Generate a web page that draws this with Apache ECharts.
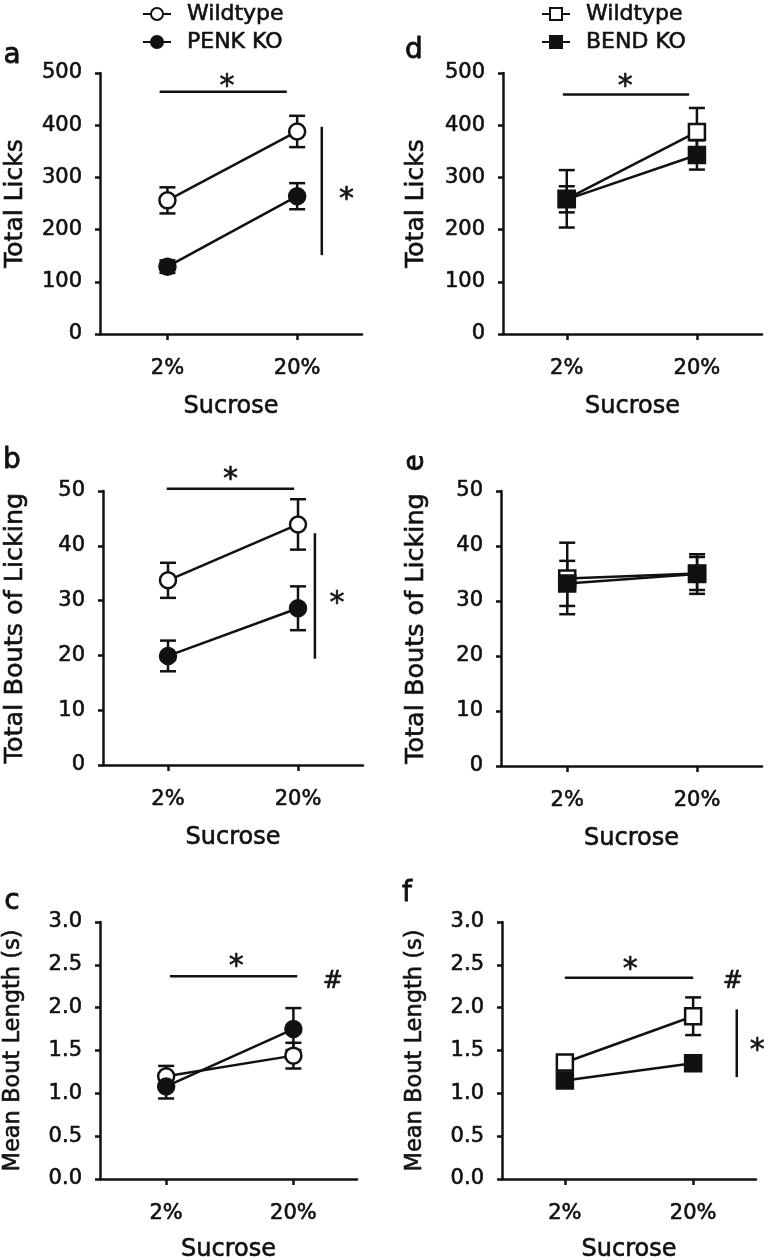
<!DOCTYPE html>
<html>
<head>
<meta charset="utf-8">
<script src="https://cdn.jsdelivr.net/npm/echarts@6/dist/echarts.min.js"></script>
<style>
html,body{margin:0;padding:0;background:#fff;}
#chart{width:768px;height:1260px;}
</style>
</head>
<body>
<div id="chart"></div>
<script>
// ---- categories ----
const sucrose = ['2%', '20%'];

// ---- Panel a: Total Licks (PENK) ----
const licksWT = [256, 388];
const licksWTErr = [25, 30];
const licksPENK = [129, 264];
const licksPENKErr = [12, 25];
const aSigLines = [[-0.06, 464, 0.92, 464], [1.19, 397, 1.19, 151]];
const aSigMarks = [[0.46, 486, '*'], [1.38, 270, '*']];

// ---- Panel b: Total Bouts of Licking (PENK) ----
const boutsWT = [33.7, 43.9];
const boutsWTErr = [3.2, 4.6];
const boutsPENK = [19.9, 28.6];
const boutsPENKErr = [2.8, 4.0];
const bSigLines = [[-0.01, 50.4, 0.97, 50.4], [1.13, 42.3, 1.13, 19.4]];
const bSigMarks = [[0.48, 53.2, '*'], [1.30, 30.6, '*']];

// ---- Panel c: Mean Bout Length (PENK) ----
const lenWT = [1.20, 1.44];
const lenWTErr = [0.12, 0.15];
const lenPENK = [1.08, 1.75];
const lenPENKErr = [0.14, 0.245];
const cSigLines = [[0.03, 2.367, 1.03, 2.367]];
const cSigMarks = [[0.55, 2.55, '*'], [1.31, 2.30, '#']];

// ---- Panel d: Total Licks (BEND) ----
const licksWT2 = [259, 387];
const licksWT2Err = [55, 46];
const licksBEND = [258, 343];
const licksBENDErr = [25, 28];
const dSigLines = [[-0.03, 459, 0.94, 459]];
const dSigMarks = [[0.45, 486, '*']];

// ---- Panel e: Total Bouts of Licking (BEND) ----
const boutsWT2 = [34.1, 35.0];
const boutsWT2Err = [6.5, 3.0];
const boutsBEND = [33.2, 34.9];
const boutsBENDErr = [4.1, 3.6];
const eSigLines = [];
const eSigMarks = [];

// ---- Panel f: Mean Bout Length (BEND) ----
const lenWT2 = [1.36, 1.90];
const lenWT2Err = [0.07, 0.22];
const lenBEND = [1.15, 1.35];
const lenBENDErr = [0.04, 0.04];
const fSigLines = [[0.0, 2.35, 1.0, 2.35], [1.34, 1.98, 1.34, 1.19]];
const fSigMarks = [[0.51, 2.52, '*'], [1.31, 2.30, '#'], [1.50, 1.57, '*']];

// ---- tick labels ----
const licksTicks = [0, 100, 200, 300, 400, 500];
const boutsTicks = [0, 10, 20, 30, 40, 50];
const lenTicks = [0, 0.5, 1.0, 1.5, 2.0, 2.5, 3.0];

// ---- build ----
const FONT = 'DejaVu Sans';
const INK = '#111';
const TB = {textBorderColor:INK, textBorderWidth:0.6};
const LW = 2.5;
const WT_L = 'Wildtype';
const WT_R = 'Wildtype\u00a0';

const panels = [
  {grid:{left:100, top:73, width:262, height:261}, xMin:-0.52, xMax:1.5, ticks:licksTicks, dec:0,
   yName:'Total Licks', yNameSize:25, yNameGap:72, xNameGap:61,
   ser:[{name:WT_L, v:licksWT, e:licksWTErr, sym:'circle', open:true},
        {name:'PENK KO', v:licksPENK, e:licksPENKErr, sym:'circle', open:false}],
   lines:aSigLines, marks:aSigMarks},
  {grid:{left:103, top:491, width:260, height:274}, xMin:-0.5, xMax:1.5, ticks:boutsTicks, dec:0,
   yName:'Total Bouts of Licking', yNameSize:25.5, yNameGap:75, xNameGap:61,
   ser:[{name:WT_L, v:boutsWT, e:boutsWTErr, sym:'circle', open:true},
        {name:'PENK KO', v:boutsPENK, e:boutsPENKErr, sym:'circle', open:false}],
   lines:bSigLines, marks:bSigMarks},
  {grid:{left:100, top:922, width:257, height:257}, xMin:-0.52, xMax:1.5, ticks:lenTicks, dec:1,
   yName:'Mean Bout Length (s)', yNameSize:22.5, yNameGap:75, xNameGap:59,
   ser:[{name:WT_L, v:lenWT, e:lenWTErr, sym:'circle', open:true},
        {name:'PENK KO', v:lenPENK, e:lenPENKErr, sym:'circle', open:false}],
   lines:cSigLines, marks:cSigMarks},
  {grid:{left:503, top:73, width:259, height:261}, xMin:-0.49, xMax:1.5, ticks:licksTicks, dec:0,
   yName:'Total Licks', yNameSize:25, yNameGap:74, xNameGap:61,
   ser:[{name:WT_R, v:licksWT2, e:licksWT2Err, sym:'rect', open:true},
        {name:'BEND KO', v:licksBEND, e:licksBENDErr, sym:'rect', open:false}],
   lines:dSigLines, marks:dSigMarks},
  {grid:{left:501, top:491, width:261, height:275}, xMin:-0.51, xMax:1.5, ticks:boutsTicks, dec:0,
   yName:'Total Bouts of Licking', yNameSize:25.5, yNameGap:72, xNameGap:61,
   ser:[{name:WT_R, v:boutsWT2, e:boutsWT2Err, sym:'rect', open:true},
        {name:'BEND KO', v:boutsBEND, e:boutsBENDErr, sym:'rect', open:false}],
   lines:eSigLines, marks:eSigMarks},
  {grid:{left:502, top:922, width:254, height:257}, xMin:-0.49, xMax:1.49, ticks:lenTicks, dec:1,
   yName:'Mean Bout Length (s)', yNameSize:22.5, yNameGap:75, xNameGap:59,
   ser:[{name:WT_R, v:lenWT2, e:lenWT2Err, sym:'rect', open:true},
        {name:'BEND KO', v:lenBEND, e:lenBENDErr, sym:'rect', open:false}],
   lines:fSigLines, marks:fSigMarks}
];

const grids = [], xAxes = [], yAxes = [], series = [];

panels.forEach((p, i) => {
  grids.push(Object.assign({outerBoundsMode:'none', containLabel:false}, p.grid));
  xAxes.push({
    type:'value', gridIndex:i, min:p.xMin, max:p.xMax,
    axisLine:{show:true, onZero:false, lineStyle:{color:INK, width:LW}},
    splitLine:{show:false},
    axisTick:{show:true, customValues:[0, 1], length:6, lineStyle:{color:INK, width:LW}},
    axisLabel:Object.assign({customValues:[0, 1], formatter:(v) => sucrose[Math.round(v)], margin:24,
               fontSize:21, fontFamily:FONT, color:INK}, TB),
    name:'Sucrose', nameLocation:'middle', nameGap:p.xNameGap,
    nameTextStyle:Object.assign({fontSize:24, fontFamily:FONT, color:INK}, TB)
  });
  const tk = p.ticks;
  yAxes.push({
    type:'value', gridIndex:i, min:tk[0], max:tk[tk.length - 1], interval:tk[1] - tk[0],
    axisLine:{show:true, onZero:false, lineStyle:{color:INK, width:LW}},
    splitLine:{show:false},
    axisTick:{show:true, length:5, lineStyle:{color:INK, width:LW}},
    axisLabel:Object.assign({margin:18, fontSize:21, fontFamily:FONT, color:INK,
               formatter:(v) => v.toFixed(p.dec)}, TB),
    name:p.yName, nameLocation:'middle', nameGap:p.yNameGap, nameRotate:90,
    nameTextStyle:Object.assign({fontSize:p.yNameSize, fontFamily:FONT, color:INK}, TB)
  });

  p.ser.forEach((s) => {
    // error bars
    series.push({
      type:'custom', xAxisIndex:i, yAxisIndex:i, z:2, silent:true,
      data:s.v.map((v, k) => [k, v - s.e[k], v + s.e[k]]),
      encode:{x:0, y:[1, 2]},
      renderItem:(params, api) => {
        const x = api.value(0);
        const lo = api.coord([x, api.value(1)]);
        const hi = api.coord([x, api.value(2)]);
        const hw = 8;
        const st = {stroke:INK, lineWidth:LW};
        return {type:'group', children:[
          {type:'line', shape:{x1:lo[0], y1:lo[1], x2:hi[0], y2:hi[1]}, style:st},
          {type:'line', shape:{x1:hi[0] - hw, y1:hi[1], x2:hi[0] + hw, y2:hi[1]}, style:st},
          {type:'line', shape:{x1:lo[0] - hw, y1:lo[1], x2:lo[0] + hw, y2:lo[1]}, style:st}
        ]};
      }
    });
    // means
    series.push({
      type:'line', name:s.name, xAxisIndex:i, yAxisIndex:i, z:3,
      data:s.v.map((v, k) => [k, v]),
      symbol:s.sym, symbolSize:16, showSymbol:true,
      lineStyle:{color:INK, width:LW},
      itemStyle:{color:s.open ? '#fff' : INK, borderColor:INK, borderWidth:LW},
      emphasis:{disabled:true}
    });
  });

  // significance lines
  if (p.lines.length) {
    series.push({
      type:'custom', xAxisIndex:i, yAxisIndex:i, z:2, silent:true,
      data:p.lines, encode:{x:[0, 2], y:[1, 3]},
      renderItem:(params, api) => {
        const a = api.coord([api.value(0), api.value(1)]);
        const b = api.coord([api.value(2), api.value(3)]);
        return {type:'line', shape:{x1:a[0], y1:a[1], x2:b[0], y2:b[1]},
                style:{stroke:INK, lineWidth:LW}};
      }
    });
  }
  if (p.marks.length) {
    const mk = p.marks;
    series.push({
      type:'custom', xAxisIndex:i, yAxisIndex:i, z:2, silent:true,
      data:mk.map((m) => [m[0], m[1]]),
      renderItem:(params, api) => {
        const pt = api.coord([api.value(0), api.value(1)]);
        const t = mk[params.dataIndex][2];
        const star = t === '*';
        const fs = star ? 30 : 24;
        return {type:'text', x:pt[0], y:pt[1] + (star ? 7 : 0),
                style:{text:t, fontSize:fs, fontFamily:FONT, fill:INK, stroke:INK, lineWidth:0.6,
                       align:'center', verticalAlign:'middle'}};
      }
    });
  }
});

const letterStyle = {fontSize:28, fontFamily:FONT, fill:INK, stroke:INK, lineWidth:0.8,
                     align:'center', verticalAlign:'middle'};
const letters = [
  {t:'a', x:12, y:56, r:0}, {t:'b', x:12, y:461, r:0}, {t:'c', x:12, y:902, r:0},
  {t:'d', x:414, y:51, r:0}, {t:'e', x:416, y:463, r:Math.PI / 2}, {t:'f', x:407, y:894, r:0}
];

const legendBase = {
  orient:'vertical', top:0, padding:0, itemGap:0, itemWidth:28, itemHeight:15,
  selectedMode:false,
  textStyle:Object.assign({fontSize:22, fontFamily:FONT, color:INK, lineHeight:28,
                           padding:[0, 0, 0, 11]}, TB),
  formatter:(n) => n.trim()
};

const option = {
  animation:false,
  backgroundColor:'#fff',
  grid:grids, xAxis:xAxes, yAxis:yAxes, series:series,
  legend:[
    Object.assign({}, legendBase, {left:142, data:[WT_L, 'PENK KO']}),
    Object.assign({}, legendBase, {left:541, data:[WT_R, 'BEND KO']})
  ],
  graphic:letters.map((l) => ({type:'text', x:l.x, y:l.y, rotation:l.r,
    style:Object.assign({text:l.t}, letterStyle)}))
};

const chart = echarts.init(document.getElementById('chart'), null, {renderer:'canvas'});
chart.setOption(option);
</script>
</body>
</html>
